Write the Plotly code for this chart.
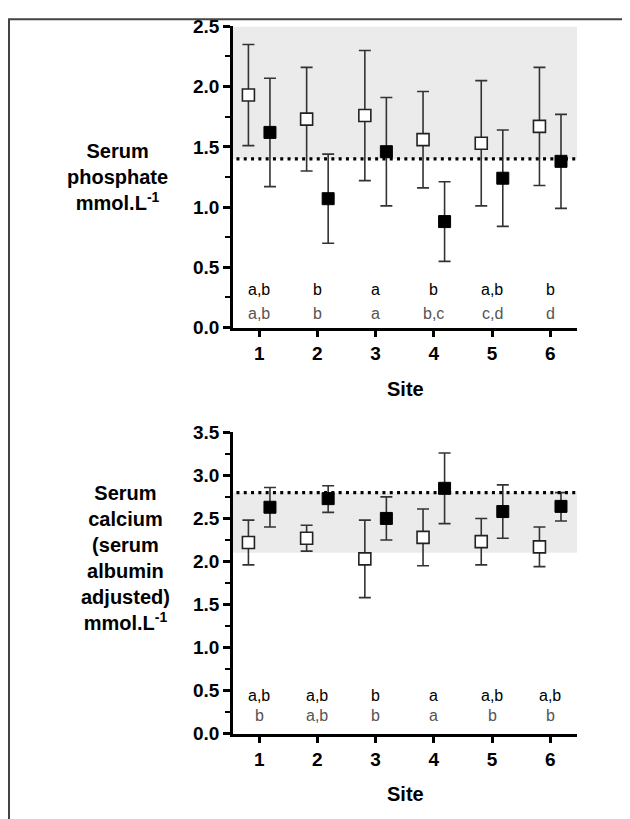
import plotly.graph_objects as go

W, H = 630, 819

sites = [1, 2, 3, 4, 5, 6]
site_labels = ["1", "2", "3", "4", "5", "6"]

# Serum phosphate (open = group A, filled = group B)
phos_open_mean = [1.93, 1.73, 1.76, 1.56, 1.53, 1.67]
phos_open_hi = [2.35, 2.16, 2.30, 1.96, 2.05, 2.16]
phos_open_lo = [1.51, 1.30, 1.22, 1.16, 1.01, 1.18]
phos_fill_mean = [1.62, 1.07, 1.46, 0.88, 1.24, 1.38]
phos_fill_hi = [2.07, 1.44, 1.91, 1.21, 1.64, 1.77]
phos_fill_lo = [1.17, 0.70, 1.01, 0.55, 0.84, 0.99]
phos_ref_lo, phos_ref_hi, phos_line = 1.4, 2.5, 1.4
phos_letters_top = ["a,b", "b", "a", "b", "a,b", "b"]
phos_letters_bot = ["a,b", "b", "a", "b,c", "c,d", "d"]

# Serum calcium (albumin adjusted)
ca_open_mean = [2.22, 2.27, 2.03, 2.28, 2.23, 2.17]
ca_open_hi = [2.48, 2.42, 2.48, 2.61, 2.50, 2.40]
ca_open_lo = [1.96, 2.12, 1.58, 1.95, 1.96, 1.94]
ca_fill_mean = [2.63, 2.73, 2.50, 2.85, 2.58, 2.64]
ca_fill_hi = [2.86, 2.88, 2.75, 3.26, 2.89, 2.80]
ca_fill_lo = [2.40, 2.57, 2.25, 2.44, 2.27, 2.47]
ca_ref_lo, ca_ref_hi, ca_line = 2.1, 2.8, 2.8
ca_letters_top = ["a,b", "a,b", "b", "a", "a,b", "a,b"]
ca_letters_bot = ["b", "a,b", "b", "a", "b", "b"]

OFF = 0.185
XR = [0.55, 6.46]

# map target-picture pixels to paper coords (page offset compensation)
def px_x(p):
    return (p - 8) / 630

def px_y(p):
    return 1 - (p - 17.6) / 800

fig = go.Figure()

def add_panel(xa, ya, om, ohi, olo, fm, fhi, flo):
    eb = dict(color="#333333", thickness=1.6, width=6)
    fig.add_trace(go.Scatter(
        x=[s - OFF for s in sites], y=om, mode="markers",
        marker=dict(symbol="square", size=12, color="white",
                    line=dict(color="#222222", width=1.6)),
        error_y=dict(type="data", symmetric=False,
                     array=[h - m for h, m in zip(ohi, om)],
                     arrayminus=[m - l for m, l in zip(om, olo)], **eb),
        xaxis=xa, yaxis=ya, showlegend=False, cliponaxis=False))
    fig.add_trace(go.Scatter(
        x=[s + OFF for s in sites], y=fm, mode="markers",
        marker=dict(symbol="square", size=12, color="black",
                    line=dict(color="black", width=1)),
        error_y=dict(type="data", symmetric=False,
                     array=[h - m for h, m in zip(fhi, fm)],
                     arrayminus=[m - l for m, l in zip(fm, flo)], **eb),
        xaxis=xa, yaxis=ya, showlegend=False, cliponaxis=False))

add_panel("x", "y", phos_open_mean, phos_open_hi, phos_open_lo,
          phos_fill_mean, phos_fill_hi, phos_fill_lo)
add_panel("x2", "y2", ca_open_mean, ca_open_hi, ca_open_lo,
          ca_fill_mean, ca_fill_hi, ca_fill_lo)

xdom = [px_x(233), px_x(577)]
axis_common = dict(showgrid=False, zeroline=False, showline=True,
                   linecolor="black", linewidth=2.6, ticks="outside",
                   ticklen=7, tickwidth=2.6, tickcolor="black",
                   tickfont=dict(family="Liberation Sans, Arial", size=19,
                                 color="black", weight="bold"))

fig.update_layout(
    width=W, height=H, margin=dict(l=0, r=0, t=0, b=0),
    plot_bgcolor="white", paper_bgcolor="white",
    xaxis=dict(domain=xdom, range=XR, tickvals=sites, ticktext=site_labels,
               anchor="y", **axis_common),
    yaxis=dict(domain=[px_y(328), px_y(26)], range=[0, 2.5], dtick=0.5,
               tickformat=".1f", anchor="x",
               minor=dict(dtick=0.25, ticks="outside", ticklen=5,
                          tickwidth=2, tickcolor="black"),
               **axis_common),
    xaxis2=dict(domain=xdom, range=XR, tickvals=sites, ticktext=site_labels,
                anchor="y2", **axis_common),
    yaxis2=dict(domain=[px_y(735), px_y(433)], range=[0, 3.5], dtick=0.5,
                tickformat=".1f", anchor="x2",
                minor=dict(dtick=0.25, ticks="outside", ticklen=5,
                           tickwidth=2, tickcolor="black"),
                **axis_common),
)

shapes = []
for xr, yr, lo, hi, ln in [("x", "y", phos_ref_lo, phos_ref_hi, phos_line),
                           ("x2", "y2", ca_ref_lo, ca_ref_hi, ca_line)]:
    shapes.append(dict(type="rect", xref=xr + " domain", yref=yr,
                       x0=0, x1=1, y0=lo, y1=hi, fillcolor="#ebebeb",
                       line=dict(width=0), layer="below"))
    shapes.append(dict(type="line", xref=xr + " domain", yref=yr,
                       x0=0.01, x1=0.995, y0=ln, y1=ln,
                       line=dict(color="black", width=3.2, dash="3px,4.3px"),
                       layer="above"))
# outer frame (left and top edges visible)
shapes.append(dict(type="rect", xref="paper", yref="paper",
                   x0=0.0016, x1=1.05, y0=-0.05, y1=0.9985,
                   line=dict(color="#444444", width=2)))
fig.update_layout(shapes=shapes)

annots = []
lf = dict(family="Liberation Sans, Arial", size=16, color="black")
lg = dict(family="Liberation Sans, Arial", size=16, color="#555555")
for s, t, b in zip(sites, phos_letters_top, phos_letters_bot):
    annots.append(dict(x=s, y=0.32, xref="x", yref="y", text=t,
                       showarrow=False, font=lf))
    annots.append(dict(x=s, y=0.12, xref="x", yref="y", text=b,
                       showarrow=False, font=lg))
for s, t, b in zip(sites, ca_letters_top, ca_letters_bot):
    annots.append(dict(x=s, y=0.44, xref="x2", yref="y2", text=t,
                       showarrow=False, font=lf))
    annots.append(dict(x=s, y=0.21, xref="x2", yref="y2", text=b,
                       showarrow=False, font=lg))

tf = dict(family="Liberation Sans, Arial", size=20, color="black",
          weight="bold")
C = dict(xref="paper", yref="paper", showarrow=False, font=tf,
         xanchor="center", yanchor="middle", align="center")
annots.append(dict(x=px_x(405), y=px_y(390), text="Site", **C))
annots.append(dict(x=px_x(405), y=px_y(796), text="Site", **C))
annots.append(dict(x=px_x(117), y=px_y(177),
                   text="Serum<br>phosphate<br>mmol.L<sup>-1</sup>", **C))
annots.append(dict(x=px_x(125), y=px_y(559),
                   text="Serum<br>calcium<br>(serum<br>albumin<br>adjusted)<br>mmol.L<sup>-1</sup>",
                   **C))
fig.update_layout(annotations=annots)

fig.write_html("out.html")
